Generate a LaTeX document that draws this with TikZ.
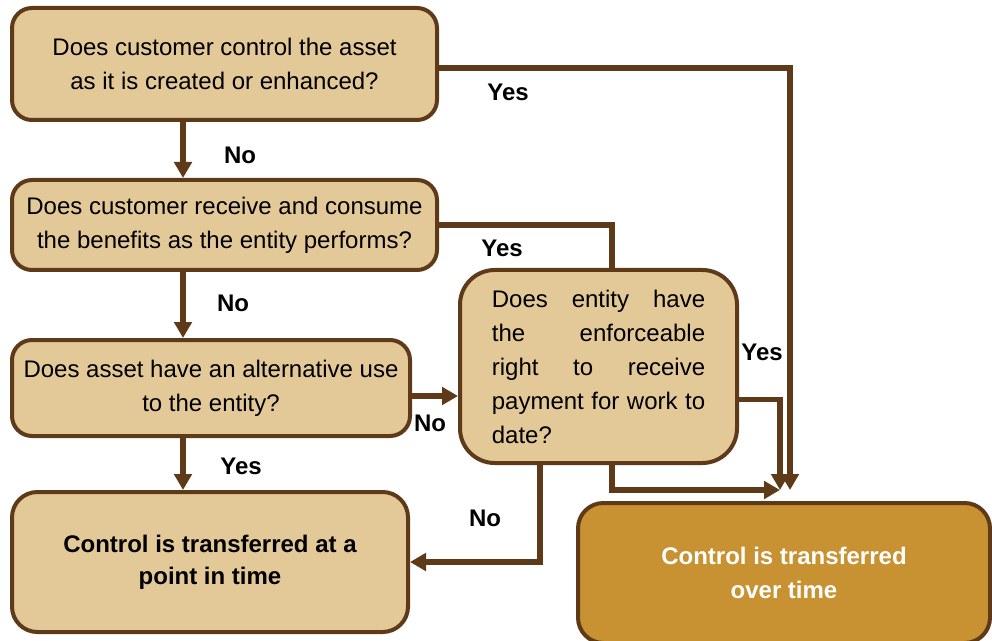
\documentclass[tikz,border=0pt]{standalone}
\usepackage{fontspec}
\setmainfont{Liberation Sans}
\usetikzlibrary{positioning,arrows.meta}
\definecolor{boxfill}{RGB}{227,200,152}
\definecolor{brownline}{RGB}{94,58,24}
\definecolor{goldfill}{RGB}{200,146,50}
\tikzset{qnode/.style={rectangle, rounded corners=15pt, draw=brownline, fill=boxfill, line width=3pt, inner sep=0pt, align=center, font=\fontsize{18}{25.5}\selectfont},}
\tikzset{flow/.style={draw=brownline, line width=3.8pt},
arr/.style={flow, -{Triangle[length=12pt,width=13pt]}},
lbl/.style={font=\fontsize{18}{22}\selectfont\bfseries},}
\newcommand{\jline}[1]{\leavevmode\hbox to 160pt{#1}}

\begin{document}
\begin{tikzpicture}[x=0.75pt, y=0.75pt]
\useasboundingbox (0,0) rectangle (992,640);
\node [qnode, minimum width=318.75pt, minimum height=84pt] (q1) at (224.5,576) {Does customer control the asset\\as it is created or enhanced?};
\node [qnode, minimum width=318.75pt, minimum height=67.5pt] (q2) at (224.5,415) {Does customer receive and consume\\the benefits as the entity performs?};
\node [qnode, minimum width=298.5pt, minimum height=72pt] (q3) at (211,252) {Does asset have an alternative use\\to the entity?};
\node [qnode, rounded corners=26pt, minimum width=207.75pt, minimum height=144.75pt, text width=160pt, align=left] (q5) at (598.5,273.5) {\jline{Does\hfill entity\hfill have}\\\jline{the\hfill enforceable}\\\jline{right\hfill to\hfill receive}\\\jline{payment\hfill for\hfill work\hfill to}\\date?};
\node [qnode, rounded corners=19pt, minimum width=297pt, minimum height=105pt, font=\fontsize{18}{24}\selectfont\bfseries] (pit) at (210,78) {Control is transferred at a\\point in time};
\node [qnode, rounded corners=19pt, fill=goldfill, text=white, minimum width=309pt, minimum height=105pt, font=\fontsize{18}{25}\selectfont\bfseries] (ot) at (784,67) {Control is transferred\\over time};
\coordinate (spine) at (183,0);
\coordinate (jx) at (612,0);
\coordinate (lx) at (540,0);
\coordinate (hubA) at (790,150);
\coordinate (hubB) at (780,150);
% yes paths
\draw[arr] ([yshift=-3pt]q1.east) -| (hubA);
\draw[flow] (q2.east) -| (q5.north -| jx);
\draw[arr] ([yshift=-25pt]q5.east) -| (hubB);
\draw[arr] (q5.south -| jx) |- (hubB);
\draw[arr] (q3.south -| spine) -- (pit.north -| spine);
% no paths
\draw[arr] (q1.south -| spine) -- (q2.north -| spine);
\draw[arr] (q2.south -| spine) -- (q3.north -| spine);
\draw[arr] ([yshift=-6pt]q3.east) -- ([yshift=-6pt]q3.east -| q5.west);
\draw[arr] (q5.south -| lx) |- (pit.east);
% labels
\node [lbl] (y1) at (508,548) {Yes};
\node [lbl] (n1) at (240,485) {No};
\node [lbl] (y2) at (502,392) {Yes};
\node [lbl] (n2) at (233,337) {No};
\node [lbl] (n3) at (430,217) {No};
\node [lbl] (y3) at (241,174) {Yes};
\node [lbl] (n4) at (485,122) {No};
\node [lbl] (y4) at (762,288) {Yes};
\end{tikzpicture}
\end{document}
